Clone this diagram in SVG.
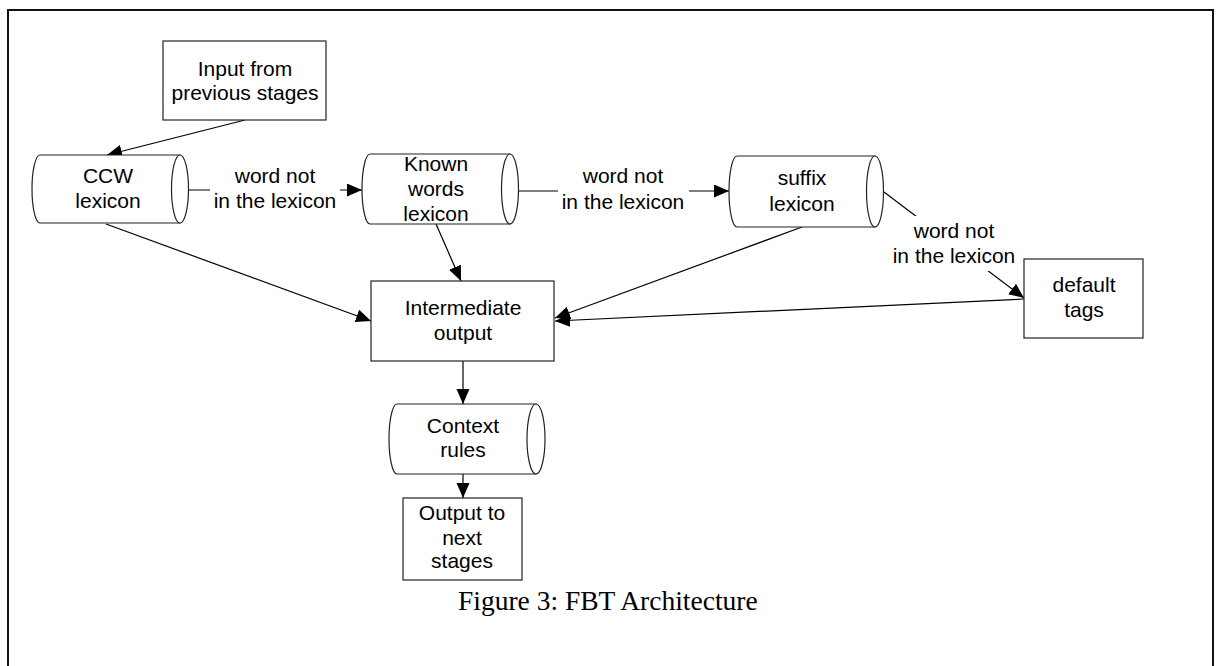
<svg xmlns="http://www.w3.org/2000/svg" width="1216" height="666" viewBox="0 0 1216 666">
<defs>
<style>
.box{fill:#fff;stroke:#222;stroke-width:1.2}
.cyl{fill:#fff;stroke:#222;stroke-width:1.2}
.lbl{font-family:"Liberation Sans",Arial,sans-serif;font-size:21px;fill:#000;text-anchor:middle}
.edge{fill:none;stroke:#000;stroke-width:1.2}
.bg{fill:#fff;stroke:none}
.cap{font-family:"Liberation Serif","Times New Roman",serif;font-size:27.5px;fill:#000}
</style>
<marker id="arr" markerUnits="userSpaceOnUse" markerWidth="16" markerHeight="14" refX="15" refY="6.5" orient="auto">
<path d="M0,0 L15,6.5 L0,13 z" fill="#000"/>
</marker>
</defs>
<rect width="1216" height="666" fill="#fff"/>
<rect x="8" y="10" width="1205" height="700" fill="none" stroke="#111" stroke-width="2"/>

<g id="connectors">
<line class="edge" x1="245" y1="120" x2="107" y2="155" marker-end="url(#arr)"/>
<line class="edge" x1="188" y1="190" x2="362" y2="190" marker-end="url(#arr)"/>
<line class="edge" x1="518" y1="191" x2="729" y2="191" marker-end="url(#arr)"/>
<line class="edge" x1="884" y1="192" x2="1024" y2="298" marker-end="url(#arr)"/>
<line class="edge" x1="106" y1="224" x2="371" y2="321" marker-end="url(#arr)"/>
<line class="edge" x1="436" y1="224" x2="461" y2="281" marker-end="url(#arr)"/>
<line class="edge" x1="802" y1="227" x2="555" y2="318" marker-end="url(#arr)"/>
<line class="edge" x1="1024" y1="299" x2="555" y2="321" marker-end="url(#arr)"/>
<line class="edge" x1="463" y1="361" x2="463" y2="404" marker-end="url(#arr)"/>
<line class="edge" x1="463" y1="474" x2="463" y2="498" marker-end="url(#arr)"/>
<g id="edge-labels">
<rect class="bg" x="210" y="166" width="130" height="50"/>
<text class="lbl" x="275" y="183">word not</text>
<text class="lbl" x="275" y="208">in the lexicon</text>
<rect class="bg" x="558" y="166" width="131" height="50"/>
<text class="lbl" x="623" y="183">word not</text>
<text class="lbl" x="623" y="209">in the lexicon</text>
<rect class="bg" x="893" y="216" width="122" height="55"/>
<text class="lbl" x="954" y="238">word not</text>
<text class="lbl" x="954" y="263">in the lexicon</text>
</g>
</g>

<g id="input">
<rect class="box" x="163" y="41" width="163" height="79"/>
<text class="lbl" x="245" y="76">Input from</text>
<text class="lbl" x="245" y="100">previous stages</text>
</g>

<g id="ccw">
<path class="cyl" d="M40,155 L180,155 L180,223 L40,223 A8,34 0 0 1 40,155 Z"/>
<ellipse class="cyl" cx="180" cy="189" rx="8.5" ry="34"/>
<text class="lbl" x="108" y="183">CCW</text>
<text class="lbl" x="108" y="208">lexicon</text>
</g>

<g id="known">
<path class="cyl" d="M370,154 L510,154 L510,224 L370,224 A8,35 0 0 1 370,154 Z"/>
<ellipse class="cyl" cx="510" cy="189" rx="8.5" ry="35"/>
<text class="lbl" x="436" y="171">Known</text>
<text class="lbl" x="436" y="196">words</text>
<text class="lbl" x="436" y="221">lexicon</text>
</g>

<g id="suffix">
<path class="cyl" d="M737,156 L875,156 L875,227 L737,227 A8,35.5 0 0 1 737,156 Z"/>
<ellipse class="cyl" cx="875" cy="191.5" rx="8.5" ry="35.5"/>
<text class="lbl" x="802" y="185">suffix</text>
<text class="lbl" x="802" y="211">lexicon</text>
</g>

<g id="default">
<rect class="box" x="1024" y="259" width="119" height="79"/>
<text class="lbl" x="1084" y="292">default</text>
<text class="lbl" x="1084" y="317">tags</text>
</g>

<g id="intermediate">
<rect class="box" x="371" y="281" width="183" height="80"/>
<text class="lbl" x="463" y="315">Intermediate</text>
<text class="lbl" x="463" y="340">output</text>
</g>

<g id="context">
<path class="cyl" d="M397,404 L536,404 L536,474 L397,474 A8,35 0 0 1 397,404 Z"/>
<ellipse class="cyl" cx="536" cy="439" rx="9" ry="35"/>
<text class="lbl" x="463" y="433">Context</text>
<text class="lbl" x="463" y="457">rules</text>
</g>

<g id="output">
<rect class="box" x="403" y="498" width="119" height="82"/>
<text class="lbl" x="462" y="520">Output to</text>
<text class="lbl" x="462" y="545">next</text>
<text class="lbl" x="462" y="568">stages</text>
</g>

<text class="cap" x="458" y="610">Figure 3: FBT Architecture</text>
</svg>
